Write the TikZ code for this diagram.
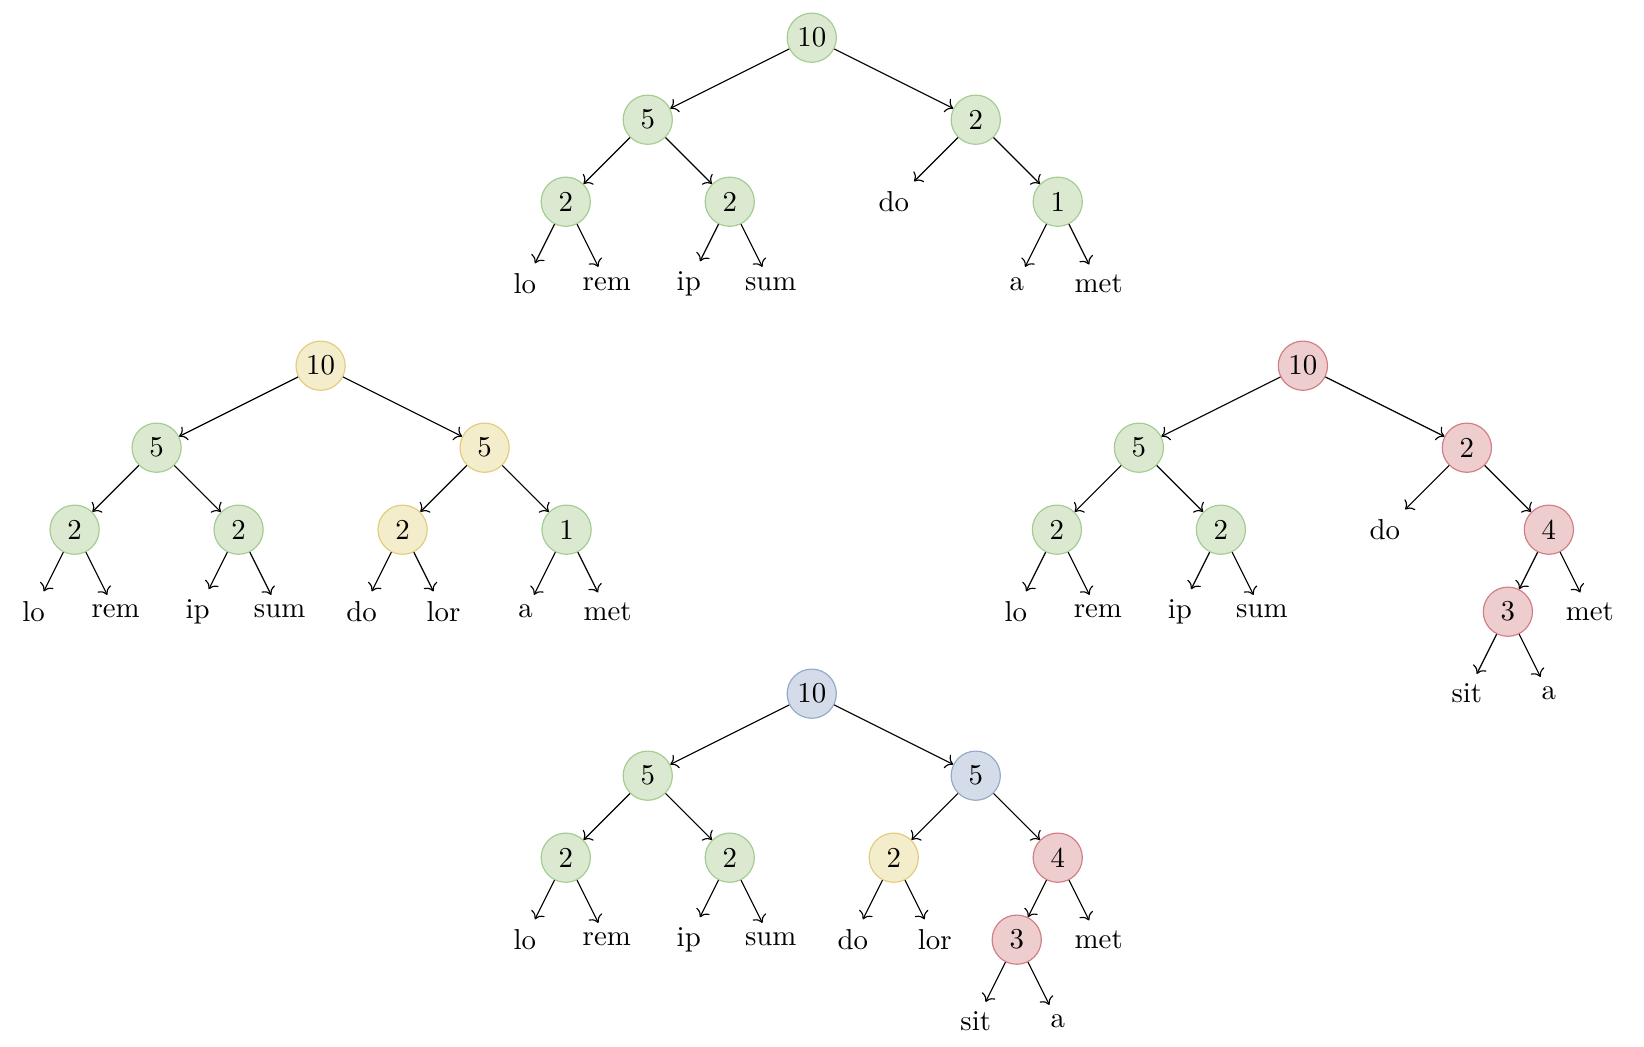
\documentclass[tikz,border=0pt]{standalone}
\usetikzlibrary{arrows.meta}
\definecolor{greenfill}{HTML}{DBE9D1}
\definecolor{greenline}{HTML}{A3CC91}
\definecolor{yellowfill}{HTML}{F4EDCC}
\definecolor{yellowline}{HTML}{E2CB7C}
\definecolor{redfill}{HTML}{EDCDCE}
\definecolor{redline}{HTML}{D17D83}
\definecolor{bluefill}{HTML}{D3DCE8}
\definecolor{blueline}{HTML}{93A9CA}
\tikzset{
    every node/.style={font=\normalsize},
    greennode/.style={circle, draw=greenline, fill=greenfill, minimum size=6mm, inner sep=0pt},
    yellownode/.style={circle, draw=yellowline, fill=yellowfill, minimum size=6mm, inner sep=0pt},
    rednode/.style={circle, draw=redline, fill=redfill, minimum size=6mm, inner sep=0pt},
    bluenode/.style={circle, draw=blueline, fill=bluefill, minimum size=6mm, inner sep=0pt},
}

\begin{document}
\begin{tikzpicture}[level distance=1cm, edge from parent/.style={draw, ->},
    level 1/.style={sibling distance=4cm}, level 2/.style={sibling distance=2cm},
    level 3/.style={sibling distance=1cm}, level 4/.style={sibling distance=1cm}]
\useasboundingbox (0,0) rectangle (20.05,-12.76);
% top tree, all green
\node[greennode] (A) at (9.90,-0.46) {10}
    child {node[greennode] {5}
        child {node[greennode] {2} child {node {lo}} child {node {rem}}}
        child {node[greennode] {2} child {node {ip}} child {node {sum}}}}
    child {node[greennode] {2}
        child {node {do}}
        child {node[greennode] {1} child {node {a}} child {node {met}}}};
% left tree, yellow branch
\node[yellownode] (B) at (3.91,-4.46) {10}
    child {node[greennode] {5}
        child {node[greennode] {2} child {node {lo}} child {node {rem}}}
        child {node[greennode] {2} child {node {ip}} child {node {sum}}}}
    child {node[yellownode] {5}
        child {node[yellownode] {2} child {node {do}} child {node {lor}}}
        child {node[greennode] {1} child {node {a}} child {node {met}}}};
% right tree, red branch
\node[rednode] (C) at (15.89,-4.46) {10}
    child {node[greennode] {5}
        child {node[greennode] {2} child {node {lo}} child {node {rem}}}
        child {node[greennode] {2} child {node {ip}} child {node {sum}}}}
    child {node[rednode] {2}
        child {node {do}}
        child {node[rednode] {4}
            child {node[rednode] {3} child {node {sit}} child {node {a}}}
            child {node {met}}}};
% bottom tree, blue root
\node[bluenode] (D) at (9.90,-8.46) {10}
    child {node[greennode] {5}
        child {node[greennode] {2} child {node {lo}} child {node {rem}}}
        child {node[greennode] {2} child {node {ip}} child {node {sum}}}}
    child {node[bluenode] {5}
        child {node[yellownode] {2} child {node {do}} child {node {lor}}}
        child {node[rednode] {4}
            child {node[rednode] {3} child {node {sit}} child {node {a}}}
            child {node {met}}}};
\end{tikzpicture}
\end{document}
